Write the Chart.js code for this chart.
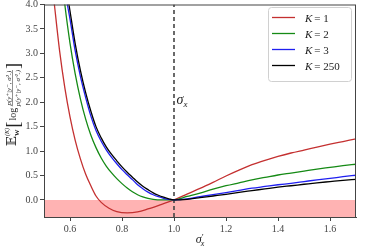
<!DOCTYPE html>
<html>
<head>
<meta charset="utf-8">
<script src="https://cdn.jsdelivr.net/npm/chart.js@4.4.1/dist/chart.umd.min.js"></script>
<style>
  html, body { margin: 0; padding: 0; background: #fff; }
  #wrap { width: 368px; height: 248px; position: relative; }
</style>
</head>
<body>
<div id="wrap"><canvas id="chart"></canvas></div>
<script>
// tick labels
var xTicks = [0.6, 0.8, 1.0, 1.2, 1.4, 1.6];
var yTicks = [0.0, 0.5, 1.0, 1.5, 2.0, 2.5, 3.0, 3.5, 4.0];

// series (sigma'_x -> value)
var k1X = [0.53, 0.54, 0.56, 0.58, 0.60, 0.62, 0.64, 0.66, 0.68, 0.70, 0.72, 0.75, 0.78, 0.82, 0.86, 0.90, 0.95, 1.00, 1.05, 1.10, 1.15, 1.20, 1.25, 1.30, 1.35, 1.40, 1.45, 1.50, 1.55, 1.60, 1.65, 1.70];
var k1Y = [4.5, 4.0, 3.05, 2.3, 1.7, 1.22, 0.84, 0.53, 0.29, 0.08, -0.05, -0.17, -0.24, -0.265, -0.245, -0.185, -0.095, 0.0, 0.12, 0.235, 0.36, 0.49, 0.61, 0.72, 0.81, 0.89, 0.96, 1.02, 1.08, 1.14, 1.195, 1.25];

var k2X = [0.57, 0.58, 0.60, 0.62, 0.64, 0.66, 0.68, 0.70, 0.72, 0.74, 0.76, 0.78, 0.80, 0.82, 0.84, 0.86, 0.88, 0.90, 0.92, 0.95, 1.00, 1.05, 1.10, 1.15, 1.20, 1.25, 1.30, 1.35, 1.40, 1.45, 1.50, 1.55, 1.60, 1.65, 1.70];
var k2Y = [4.47, 4.0, 3.21, 2.58, 2.07, 1.66, 1.33, 1.07, 0.858, 0.688, 0.552, 0.435, 0.333, 0.243, 0.167, 0.106, 0.06, 0.03, 0.012, 0.0, 0.0, 0.07, 0.14, 0.22, 0.29, 0.35, 0.41, 0.46, 0.51, 0.55, 0.59, 0.63, 0.665, 0.70, 0.73];

var k3X = [0.58, 0.59, 0.60, 0.62, 0.64, 0.66, 0.68, 0.70, 0.72, 0.74, 0.76, 0.78, 0.80, 0.82, 0.84, 0.86, 0.88, 0.90, 0.92, 0.94, 0.96, 0.98, 1.00, 1.05, 1.10, 1.15, 1.20, 1.25, 1.30, 1.35, 1.40, 1.45, 1.50, 1.55, 1.60, 1.65, 1.70];
var k3Y = [4.35, 4.0, 3.7, 3.05, 2.53, 2.1, 1.72, 1.42, 1.2, 1.02, 0.87, 0.74, 0.62, 0.515, 0.415, 0.31, 0.23, 0.16, 0.105, 0.065, 0.033, 0.01, 0.0, 0.02, 0.065, 0.11, 0.15, 0.195, 0.24, 0.275, 0.31, 0.34, 0.375, 0.41, 0.44, 0.475, 0.505];

var k250X = [0.585, 0.596, 0.62, 0.64, 0.66, 0.68, 0.70, 0.72, 0.74, 0.76, 0.78, 0.80, 0.82, 0.84, 0.86, 0.88, 0.90, 0.92, 0.94, 0.96, 0.98, 1.00, 1.05, 1.10, 1.15, 1.20, 1.25, 1.30, 1.35, 1.40, 1.45, 1.50, 1.55, 1.60, 1.65, 1.70];
var k250Y = [4.35, 4.0, 3.2, 2.65, 2.2, 1.82, 1.5, 1.27, 1.08, 0.93, 0.80, 0.675, 0.565, 0.465, 0.365, 0.28, 0.21, 0.145, 0.095, 0.055, 0.022, 0.0, 0.012, 0.045, 0.08, 0.115, 0.155, 0.19, 0.225, 0.26, 0.29, 0.32, 0.35, 0.375, 0.40, 0.42];

var seriesLabels = ['K = 1', 'K = 2', 'K = 3', 'K = 250'];
var seriesColors = ['#c43030', '#158a15', '#1f1ff0', '#000000'];

var xMin = 0.5, xMax = 1.7, yMin = -0.35, yMax = 4.0;
var trueSigma = 1.0;

function pts(xs, ys) {
  return xs.map(function (x, i) { return { x: x, y: ys[i] }; });
}

var serif = "'Liberation Serif', 'DejaVu Serif', serif";

// draw text pieces (for sub/superscripts), returns end x
function drawPieces(ctx, pieces, x, y) {
  pieces.forEach(function (p) {
    ctx.font = p.font;
    ctx.fillText(p.t, x, y + (p.dy || 0));
    x += ctx.measureText(p.t).width + (p.gap || 0);
  });
  return x;
}
function piecesWidth(ctx, pieces) {
  var w = 0;
  pieces.forEach(function (p) { ctx.font = p.font; w += ctx.measureText(p.t).width + (p.gap || 0); });
  return w;
}

var extras = {
  id: 'extras',
  afterDatasetsDraw: function (chart) {
    var ctx = chart.ctx, a = chart.chartArea;
    var xs = chart.scales.x, ys = chart.scales.y;
    ctx.save();

    // frame
    ctx.strokeStyle = '#444';
    ctx.lineWidth = 1;
    ctx.strokeRect(a.left + 0.5, a.top + 0.5, a.right - a.left - 1, a.bottom - a.top);

    // sigma_x label next to the dashed line
    ctx.fillStyle = '#222';
    ctx.textBaseline = 'alphabetic';
    drawPieces(ctx, [
      { t: 'σ', font: 'italic 14px ' + serif },
      { t: 'x', font: 'italic 9px ' + serif, dy: 3 }
    ], xs.getPixelForValue(1.01), ys.getPixelForValue(1.96));

    // legend box
    var bx = 268, by = 7, bw = 83, bh = 74;
    ctx.fillStyle = 'rgba(255,255,255,0.85)';
    ctx.strokeStyle = '#d0d0d0';
    ctx.lineWidth = 1;
    ctx.beginPath();
    ctx.roundRect(bx + 0.5, by + 0.5, bw, bh, 3);
    ctx.fill();
    ctx.stroke();
    seriesLabels.forEach(function (lab, i) {
      var ry = 17.5 + i * 16;
      ctx.strokeStyle = seriesColors[i];
      ctx.lineWidth = 1.3;
      ctx.beginPath();
      ctx.moveTo(272, ry);
      ctx.lineTo(295, ry);
      ctx.stroke();
      ctx.fillStyle = '#222';
      var parts = lab.split(' = ');
      drawPieces(ctx, [
        { t: parts[0], font: 'italic 11px ' + serif, gap: 2 },
        { t: '= ' + parts[1], font: '11px ' + serif }
      ], 305, ry + 4);
    });

    // x title
    ctx.fillStyle = '#222';
    var xt = [
      { t: 'σ', font: 'italic 12px ' + serif },
      { t: '′', font: '9px ' + serif, dy: -3, gap: -3 },
      { t: 'x', font: 'italic 8px ' + serif, dy: 3 }
    ];
    drawPieces(ctx, xt, (a.left + a.right) / 2 - piecesWidth(ctx, xt) / 2, 243);

    // y title (rotated)
    ctx.translate(13, 104);
    ctx.rotate(-Math.PI / 2);
    var left = [
      { t: '𝔼', font: '13px ' + "'DejaVu Serif', serif" },
      { t: '(K)', font: 'italic 6px ' + serif, dy: -7, gap: -8 },
      { t: 'W', font: 'bold 6.5px ' + serif, dy: 3, gap: 2 },
      { t: '[', font: '18px ' + serif, dy: 3, gap: 1 },
      { t: 'log', font: '10px ' + serif, gap: 1.5 }
    ];
    var num = [{ t: 'p(y⁺|y⁻, σ²ₓ)', font: 'italic 7px ' + serif }];
    var den = [{ t: 'p(y⁺|y⁻, σ′²ₓ)', font: 'italic 7px ' + serif }];
    var fw = Math.max(piecesWidth(ctx, num), piecesWidth(ctx, den));
    var lw = piecesWidth(ctx, left);
    ctx.font = '18px ' + serif;
    var rw = ctx.measureText(']').width;
    var total = lw + fw + rw + 2;
    var x0 = -total / 2;
    var endL = drawPieces(ctx, left, x0, 3);
    drawPieces(ctx, num, endL + (fw - piecesWidth(ctx, num)) / 2, -2.5);
    drawPieces(ctx, den, endL + (fw - piecesWidth(ctx, den)) / 2, 6.5);
    ctx.strokeStyle = '#222';
    ctx.lineWidth = 0.5;
    ctx.beginPath();
    ctx.moveTo(endL, -0.5);
    ctx.lineTo(endL + fw, -0.5);
    ctx.stroke();
    ctx.font = '18px ' + serif;
    ctx.fillText(']', endL + fw + 1, 6);

    ctx.restore();
  }
};

var curveDatasets = [[k1X, k1Y], [k2X, k2Y], [k3X, k3Y], [k250X, k250Y]].map(function (s, i) {
  return {
    label: seriesLabels[i],
    data: pts(s[0], s[1]),
    borderColor: seriesColors[i],
    borderWidth: 1.3,
    pointRadius: 0,
    cubicInterpolationMode: 'monotone',
    fill: false,
    order: 4 - i
  };
});

var ctx = document.getElementById('chart').getContext('2d');
var myChart = new Chart(ctx, {
  type: 'line',
  data: {
    datasets: curveDatasets.concat([
      {
        label: 'sigma_x',
        data: [{ x: trueSigma, y: yMin }, { x: trueSigma, y: yMax }],
        borderColor: '#444',
        borderWidth: 1.6,
        borderDash: [4, 3],
        pointRadius: 0,
        fill: false,
        order: 5
      },
      {
        label: 'negative region',
        data: [{ x: xMin, y: 0 }, { x: xMax, y: 0 }],
        borderWidth: 0,
        borderColor: 'rgba(0,0,0,0)',
        backgroundColor: '#ffb3b3',
        pointRadius: 0,
        fill: 'start',
        order: 6
      }
    ])
  },
  options: {
    responsive: true,
    maintainAspectRatio: false,
    animation: false,
    layout: { padding: { left: 0, top: 4.5, right: 12, bottom: 0 } },
    plugins: {
      legend: { display: false },
      tooltip: { enabled: false }
    },
    scales: {
      x: {
        type: 'linear',
        min: xMin,
        max: xMax,
        afterBuildTicks: function (scale) { scale.ticks = xTicks.map(function (v) { return { value: v }; }); },
        afterFit: function (scale) {
          scale.height = 31;
          scale.paddingLeft = 0;
          scale.paddingRight = 0;
        },
        grid: { drawOnChartArea: false, drawTicks: true, tickLength: 4, color: '#444' },
        border: { color: '#444' },
        ticks: {
          color: '#444',
          padding: 2,
          maxRotation: 0,
          font: { family: serif, size: 10 },
          callback: function (v) { return v.toFixed(1); }
        }
      },
      y: {
        type: 'linear',
        min: yMin,
        max: yMax,
        afterBuildTicks: function (scale) { scale.ticks = yTicks.map(function (v) { return { value: v }; }); },
        afterFit: function (scale) {
          scale.width = 44;
          scale.paddingTop = 0;
          scale.paddingBottom = 0;
        },
        grid: { drawOnChartArea: false, drawTicks: true, tickLength: 4, color: '#444' },
        border: { color: '#444' },
        ticks: {
          color: '#444',
          padding: 2,
          font: { family: serif, size: 10 },
          callback: function (v) { return v.toFixed(1); }
        }
      }
    }
  },
  plugins: [extras]
});
</script>
</body>
</html>
